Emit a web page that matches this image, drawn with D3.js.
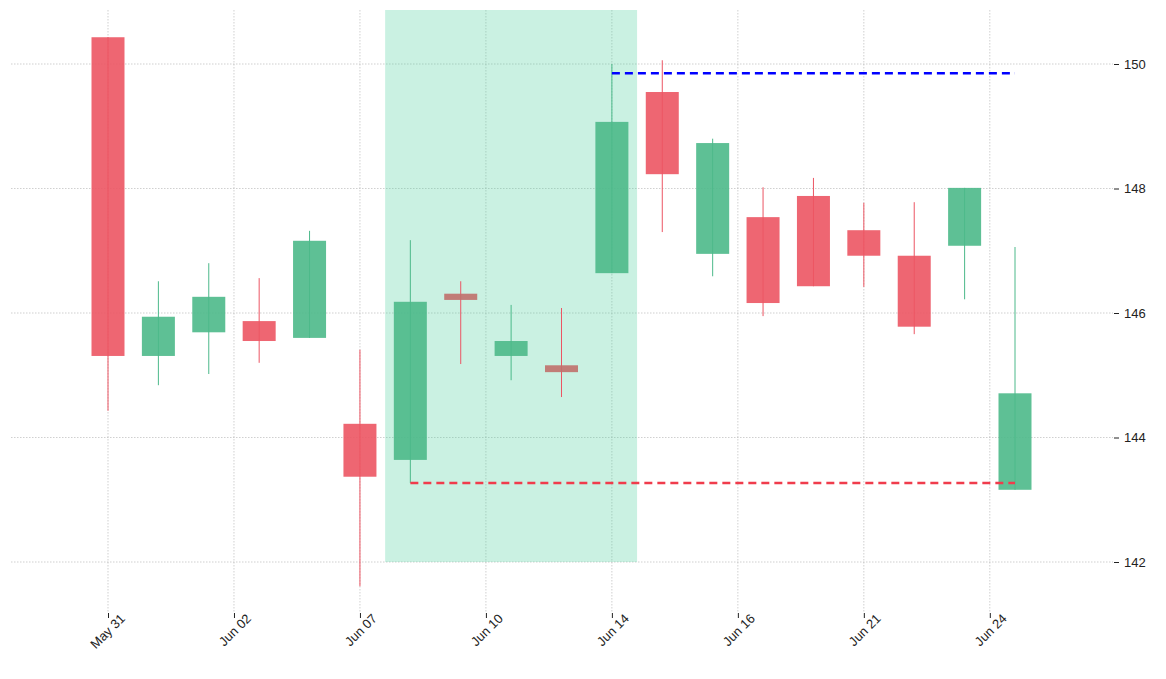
<!DOCTYPE html>
<html><head><meta charset="utf-8">
<script src="https://cdn.jsdelivr.net/npm/d3@7"></script>
<style>body{margin:0;background:#fff;font-family:"DejaVu Sans",sans-serif}</style>
</head><body><svg id="c" width="1166" height="679"></svg>
<script>
const opens  =[150.43,145.31,145.69,145.87,145.60,144.22,143.64,146.31,145.31,145.16,146.64,149.55,146.95,147.54,147.88,147.33,146.92,147.08,143.16];
const closes =[145.31,145.94,146.26,145.55,147.16,143.37,146.18,146.21,145.55,145.05,149.07,148.23,148.73,146.16,146.43,146.92,145.78,148.01,144.71];
const highs  =[150.43,146.51,146.80,146.56,147.32,145.41,147.17,146.51,146.13,146.08,150.00,150.06,148.80,148.02,148.17,147.77,147.78,148.01,147.06];
const lows   =[144.43,144.84,145.02,145.20,145.60,141.61,143.27,145.18,144.92,144.65,146.64,147.30,146.59,145.95,146.43,146.42,145.66,146.22,143.16];
const dojiIdx=[7,9];
const tickPos=[0,2.5,5,7.5,10,12.5,15,17.5];
const tickLabels=["May 31","Jun 02","Jun 07","Jun 10","Jun 14","Jun 16","Jun 21","Jun 24"];
const yTicks=[142,144,146,148,150];
const zone={x0:5.5,x1:10.5,bottom:142};
const resistance={v:149.85,x0:10,x1:18};
const support={v:143.27,x0:6,x1:18};

const svg=d3.select("#c");
const x=d3.scaleLinear().domain([0,18]).range([108,1015]);
const y=d3.scaleLinear().domain([142,150]).range([562,64]);
const pTop=10,pBottom=613,pLeft=11,pRight=1113;
const g=svg.append("g");
g.selectAll(".vg").data(tickPos).join("line").attr("x1",d=>x(d)).attr("x2",d=>x(d)).attr("y1",pTop).attr("y2",pBottom)
 .attr("stroke","#b0b0b0").attr("stroke-width",0.6).attr("stroke-dasharray","1.5,1.5");
g.selectAll(".hg").data(yTicks).join("line").attr("x1",pLeft).attr("x2",pRight).attr("y1",d=>y(d)).attr("y2",d=>y(d))
 .attr("stroke","#b0b0b0").attr("stroke-width",0.6).attr("stroke-dasharray","1.5,1.5");
g.append("rect").attr("x",x(zone.x0)).attr("width",x(zone.x1)-x(zone.x0)).attr("y",pTop).attr("height",y(zone.bottom)-pTop)
 .attr("fill","#4fd1a0").attr("opacity",0.3);
const bw=33;
const data=opens.map((o,i)=>({i,o,c:closes[i],h:highs[i],l:lows[i]}));
const up=d=>d.c>=d.o&&!dojiIdx.includes(d.i);
const col=d=>dojiIdx.includes(d.i)?"#c0706c":(up(d)?"#4cb98a":"#ec5563");
g.selectAll(".w").data(data).join("line").attr("x1",d=>x(d.i)).attr("x2",d=>x(d.i)).attr("y1",d=>y(d.h)).attr("y2",d=>y(d.l))
 .attr("stroke",d=>up(d)?"#4cb98a":"#ec5563").attr("stroke-width",1);
g.selectAll(".b").data(data).join("rect").attr("x",d=>x(d.i)-bw/2).attr("width",bw)
 .attr("y",d=>y(Math.max(d.o,d.c))).attr("height",d=>Math.max(1,Math.abs(y(d.o)-y(d.c))))
 .attr("fill",col).attr("opacity",0.9);
g.append("line").attr("x1",x(resistance.x0)).attr("x2",x(resistance.x1)).attr("y1",y(resistance.v)).attr("y2",y(resistance.v))
 .attr("stroke","#0000ff").attr("stroke-width",2.5).attr("stroke-dasharray","8,5");
g.append("line").attr("x1",x(support.x0)).attr("x2",x(support.x1)).attr("y1",y(support.v)).attr("y2",y(support.v))
 .attr("stroke","#f03c4c").attr("stroke-width",2.5).attr("stroke-dasharray","8,5");
const xa=svg.append("g").attr("transform",`translate(0,${pBottom})`)
 .call(d3.axisBottom(x).tickValues(tickPos).tickFormat((d,i)=>tickLabels[i]).tickSize(5).tickPadding(4));
xa.select(".domain").remove();
xa.selectAll("line").attr("stroke","#222");
xa.selectAll("text").attr("font-size",13).attr("fill","#222").attr("text-anchor","end")
 .attr("transform","rotate(-45)").attr("dx","0.6em").attr("dy","0.6em");
const ya=svg.append("g").attr("transform",`translate(${pRight+1},0)`)
 .call(d3.axisRight(y).tickValues(yTicks).tickSize(5).tickPadding(5));
ya.select(".domain").remove();
ya.selectAll("line").attr("stroke","#222");
ya.selectAll("text").attr("font-size",13).attr("fill","#222");
</script></body></html>
